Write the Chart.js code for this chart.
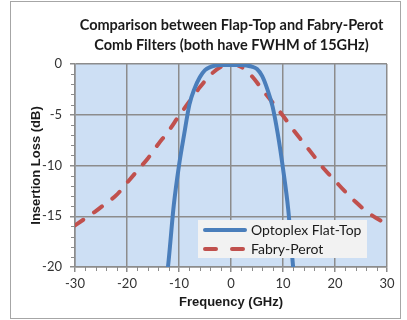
<!DOCTYPE html>
<html>
<head>
<meta charset="utf-8">
<script src="https://cdn.jsdelivr.net/npm/chart.js@4.4.1/dist/chart.umd.min.js"></script>
<style>
    body { margin: 0; background: #fff; overflow: hidden; }
    #wrap { position: relative; width: 407px; height: 320px; overflow: hidden; }
    #frame { position: absolute; left: 10px; top: 1px; width: 389px; height: 316px; border: 1px solid #a6a6a6; pointer-events: none; }
    #title { position: absolute; left: 0; width: 407px; padding-left: 56px; box-sizing: border-box; top: 15px; text-align: center;
        font-family: Lato, "Liberation Sans", sans-serif; font-size: 14.5px; font-weight: bold; line-height: 20px; color: #1a1a1a; white-space: nowrap; }
    #legend { position: absolute; left: 198px; top: 220px; width: 169px; height: 38px; background: #f2f2f2;
        font-family: Lato, "Liberation Sans", sans-serif; font-size: 14px; color: #1a1a1a; }
    #legend .row { position: absolute; left: 0; height: 19px; display: flex; align-items: center; }
    #legend svg { margin-left: 4px; margin-right: 3px; }
</style>
</head>
<body>
<div id="wrap">
    <canvas id="chart" width="407" height="320"></canvas>
    <div id="frame"></div>
    <div id="title"></div>
    <div id="legend">
        <div class="row" style="top: 0;">
            <svg width="46" height="8"><line x1="3" y1="4" x2="43" y2="4" stroke="#4a7ebb" stroke-width="4" stroke-linecap="round"/></svg>
            <span>Optoplex Flat-Top</span>
        </div>
        <div class="row" style="top: 19px;">
            <svg width="46" height="8"><line x1="3" y1="4" x2="43" y2="4" stroke="#c0504d" stroke-width="4" stroke-linecap="round" stroke-dasharray="11 16"/></svg>
            <span>Fabry-Perot</span>
        </div>
    </div>
</div>
<script>
// ========== DATA ==========
const chartTitle = ['Comparison between Flap-Top and Fabry-Perot', 'Comb Filters (both have FWHM of 15GHz)'];
const xTitle = 'Frequency (GHz)';
const yTitle = 'Insertion Loss (dB)';

// Optoplex flat-top filter
const flatTopFreq = [-13, -12, -11, -10, -9, -8, -7, -6, -5, -4, -3, -2, 0, 2, 3, 4, 5, 6, 7, 8, 9, 10, 11, 12, 13];
const flatTopLoss = [-24, -19.4, -13.9, -10.0, -6.9, -4.0, -2.4, -1.3, -0.6, -0.3, -0.15, -0.1, -0.1, -0.1, -0.15, -0.25, -0.5, -1.2, -2.5, -4.2, -6.9, -10.3, -14.3, -20.3, -25];

// Fabry-Perot filter
const fpFreq = [-30, -28, -26, -24, -22, -20, -18, -16, -14, -12, -10, -8, -6, -4, -2, 0,
                2, 4, 6, 8, 10, 12, 14, 16, 18, 20, 22, 24, 26, 28, 30];
const fpLoss = [-15.9, -15.2, -14.5, -13.7, -12.9, -11.7, -10.5, -9.3, -7.9, -6.6, -5.1, -3.7, -2.3, -1.1, -0.3, 0,
                -0.3, -1.2, -2.5, -3.8, -5.1, -6.5, -7.8, -9.1, -10.4, -11.5, -12.6, -13.6, -14.5, -15.2, -15.8];

const xMin = -30, xMax = 30, xStep = 10, xMinorStep = 2;
const yMin = -20, yMax = 0, yStep = 5, yMinorStep = 1;

document.getElementById('title').innerHTML = chartTitle.join('<br>');

const toPoints = (xs, ys) => xs.map((x, i) => ({ x: x, y: ys[i] }));

// plot background + minor tick marks
const plotExtras = {
    id: 'plotExtras',
    beforeDraw(chart) {
        const { ctx, chartArea: a } = chart;
        ctx.save();
        ctx.fillStyle = '#cddff4';
        ctx.fillRect(a.left, a.top, a.right - a.left, a.bottom - a.top);
        ctx.restore();
    },
    afterDatasetsDraw(chart) {
        const { ctx, chartArea: a, scales } = chart;
        ctx.save();
        ctx.strokeStyle = '#8c8c8c';
        ctx.lineWidth = 1;
        ctx.beginPath();
        for (let v = xMin; v <= xMax; v += xMinorStep) {
            if (v % xStep === 0) continue;
            const px = Math.round(scales.x.getPixelForValue(v)) + 0.5;
            ctx.moveTo(px, a.bottom);
            ctx.lineTo(px, a.bottom + 4);
        }
        for (let v = yMin; v <= yMax; v += yMinorStep) {
            if (v % yStep === 0) continue;
            const py = Math.round(scales.y.getPixelForValue(v)) + 0.5;
            ctx.moveTo(a.left - 4, py);
            ctx.lineTo(a.left, py);
        }
        ctx.stroke();
        ctx.restore();
    }
};

const tickFont = { family: 'Lato, "Liberation Sans", sans-serif', size: 13 };
const titleFont = { family: '"Liberation Sans", Arial, sans-serif', size: 13, weight: 'bold' };

const ctx = document.getElementById('chart').getContext('2d');
new Chart(ctx, {
    type: 'line',
    data: {
        datasets: [
            {
                label: 'Fabry-Perot',
                data: toPoints(fpFreq, fpLoss),
                borderColor: '#c0504d',
                borderWidth: 4,
                borderDash: [10, 13],
                borderCapStyle: 'round',
                cubicInterpolationMode: 'monotone',
                pointRadius: 0,
                order: 2
            },
            {
                label: 'Optoplex Flat-Top',
                data: toPoints(flatTopFreq, flatTopLoss),
                borderColor: '#4a7ebb',
                borderWidth: 4,
                cubicInterpolationMode: 'monotone',
                pointRadius: 0,
                order: 1
            }
        ]
    },
    options: {
        responsive: false,
        animation: false,
        layout: { padding: { left: 11, right: 20, top: 64, bottom: 0 } },
        plugins: {
            legend: { display: false },
            tooltip: { enabled: false },
            title: { display: false }
        },
        scales: {
            x: {
                type: 'linear',
                min: xMin,
                max: xMax,
                ticks: { stepSize: xStep, color: '#333', font: tickFont, padding: 4, maxRotation: 0 },
                grid: { color: '#8c8c8c', lineWidth: 1.5, tickLength: 5 },
                border: { color: '#8c8c8c', width: 1.5 },
                title: { display: true, text: xTitle, color: '#1a1a1a', font: titleFont, padding: { top: 4, bottom: 10 } },
                afterFit(scale) { scale.height = 53; }
            },
            y: {
                min: yMin,
                max: yMax,
                ticks: { stepSize: yStep, color: '#333', font: tickFont, padding: 8 },
                grid: { color: '#8c8c8c', lineWidth: 1.5, tickLength: 5 },
                border: { color: '#8c8c8c', width: 1.5 },
                title: { display: true, text: yTitle, color: '#1a1a1a', font: titleFont, padding: { top: 18, bottom: 4 } },
                afterFit(scale) { scale.width = 64; }
            }
        }
    },
    plugins: [plotExtras]
});
</script>
</body>
</html>
